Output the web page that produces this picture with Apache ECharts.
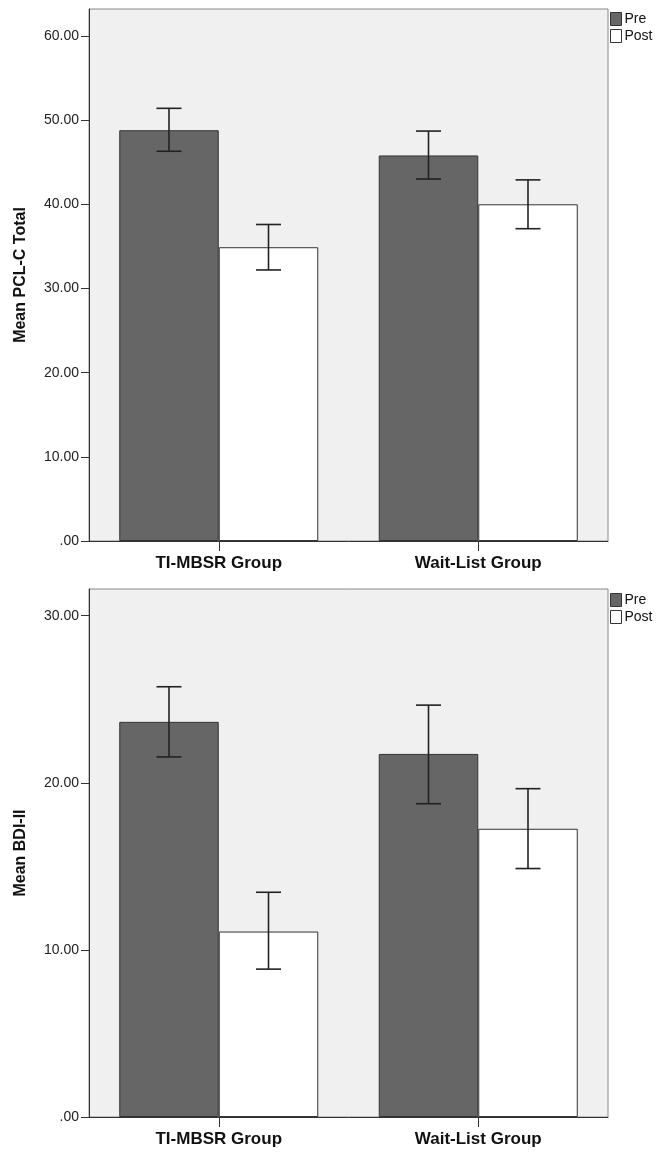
<!DOCTYPE html>
<html>
<head>
<meta charset="utf-8">
<script src="https://cdn.jsdelivr.net/npm/echarts@6/dist/echarts.min.js"></script>
<style>
  html, body { margin: 0; padding: 0; background: #fff; }
  #chart { width: 657px; height: 1156px; }
</style>
</head>
<body>
<div id="chart"></div>
<script>
// groups on the x axis
var groups = ['TI-MBSR Group', 'Wait-List Group'];

// PCL-C means and error bar ends
var pclPre = [48.8, 45.8];
var pclPost = [34.9, 40.0];
var pclPreLow = [46.3, 43.0];
var pclPreHigh = [51.4, 48.7];
var pclPostLow = [32.2, 37.1];
var pclPostHigh = [37.6, 42.9];

// BDI-II means and error bar ends
var bdiPre = [23.65, 21.73];
var bdiPost = [11.1, 17.25];
var bdiPreLow = [21.55, 18.75];
var bdiPreHigh = [25.75, 24.65];
var bdiPostLow = [8.85, 14.87];
var bdiPostHigh = [13.45, 19.65];

// tick labels
var pclTicks = [0, 10, 20, 30, 40, 50, 60];
var bdiTicks = [0, 10, 20, 30];

var font = '"Liberation Sans", Arial, sans-serif';
var barW = 99.5;

function fmt(v) {
  return v === 0 ? '.00' : v.toFixed(2);
}

function errRows(low, high) {
  return groups.map(function (g, i) { return [i, low[i], high[i]]; });
}

// draws a whisker with caps, shifted sideways onto its bar
function errRender(offset) {
  return function (params, api) {
    var lo = api.coord([api.value(0), api.value(1)]);
    var hi = api.coord([api.value(0), api.value(2)]);
    var x = lo[0] + offset;
    var cap = 12.5;
    var style = { stroke: '#222', lineWidth: 1.6 };
    return {
      type: 'group',
      children: [
        { type: 'line', shape: { x1: x, y1: lo[1], x2: x, y2: hi[1] }, style: style },
        { type: 'line', shape: { x1: x - cap, y1: lo[1], x2: x + cap, y2: lo[1] }, style: style },
        { type: 'line', shape: { x1: x - cap, y1: hi[1], x2: x + cap, y2: hi[1] }, style: style }
      ]
    };
  };
}

function yAxisFor(idx, name, max, ticks) {
  return {
    type: 'value',
    gridIndex: idx,
    min: 0,
    max: max,
    interval: 10,
    name: name,
    nameLocation: 'middle',
    nameRotate: 90,
    nameGap: 60,
    nameTextStyle: { fontFamily: font, fontSize: 16, fontWeight: 'bold', color: '#111' },
    axisLine: { show: true, lineStyle: { color: '#333', width: 1 } },
    axisTick: { show: true, length: 8, customValues: ticks, lineStyle: { color: '#333' } },
    axisLabel: { customValues: ticks, formatter: fmt, margin: 10, fontFamily: font, fontSize: 14, color: '#222' },
    splitLine: { show: false }
  };
}

function xAxisFor(idx) {
  return {
    type: 'category',
    gridIndex: idx,
    data: groups,
    axisLine: { show: true, lineStyle: { color: '#333', width: 1 } },
    axisTick: { show: true, alignWithLabel: true, length: 10, lineStyle: { color: '#333' } },
    axisLabel: { margin: 14, fontFamily: font, fontSize: 17, fontWeight: 'bold', color: '#111' }
  };
}

function barSeries(name, idx, data, color) {
  return {
    name: name,
    type: 'bar',
    xAxisIndex: idx,
    yAxisIndex: idx,
    data: data,
    barWidth: barW,
    barGap: '0%',
    itemStyle: { color: color, borderColor: '#333', borderWidth: 1 },
    z: 2
  };
}

function errSeries(idx, low, high, offset) {
  return {
    type: 'custom',
    xAxisIndex: idx,
    yAxisIndex: idx,
    data: errRows(low, high),
    encode: { x: 0, y: [1, 2] },
    renderItem: errRender(offset),
    z: 5,
    silent: true
  };
}

function legendFor(top) {
  return {
    orient: 'vertical',
    left: 610,
    top: top,
    padding: 0,
    icon: 'rect',
    itemWidth: 11,
    itemHeight: 13,
    itemGap: 3,
    textStyle: { fontFamily: font, fontSize: 14, color: '#111', padding: [0, 0, 0, -2] },
    data: [
      { name: 'Pre', itemStyle: { color: '#666', borderColor: '#333', borderWidth: 1 } },
      { name: 'Post', itemStyle: { color: '#fff', borderColor: '#333', borderWidth: 1 } }
    ]
  };
}

var option = {
  animation: false,
  grid: [
    { left: 89, right: 49, top: 9, height: 532, show: true, backgroundColor: '#f0f0f0', borderColor: '#888', borderWidth: 1 },
    { left: 89, right: 49, top: 589, height: 528, show: true, backgroundColor: '#f0f0f0', borderColor: '#888', borderWidth: 1 }
  ],
  legend: [legendFor(12), legendFor(593)],
  xAxis: [xAxisFor(0), xAxisFor(1)],
  yAxis: [
    yAxisFor(0, 'Mean PCL-C Total', 63.2, pclTicks),
    yAxisFor(1, 'Mean BDI-II', 31.6, bdiTicks)
  ],
  series: [
    barSeries('Pre', 0, pclPre, '#666'),
    barSeries('Post', 0, pclPost, '#fff'),
    errSeries(0, pclPreLow, pclPreHigh, -barW / 2),
    errSeries(0, pclPostLow, pclPostHigh, barW / 2),
    barSeries('Pre', 1, bdiPre, '#666'),
    barSeries('Post', 1, bdiPost, '#fff'),
    errSeries(1, bdiPreLow, bdiPreHigh, -barW / 2),
    errSeries(1, bdiPostLow, bdiPostHigh, barW / 2)
  ]
};

var myChart = echarts.init(document.getElementById('chart'), null, { renderer: 'canvas' });
myChart.setOption(option);
</script>
</body>
</html>
